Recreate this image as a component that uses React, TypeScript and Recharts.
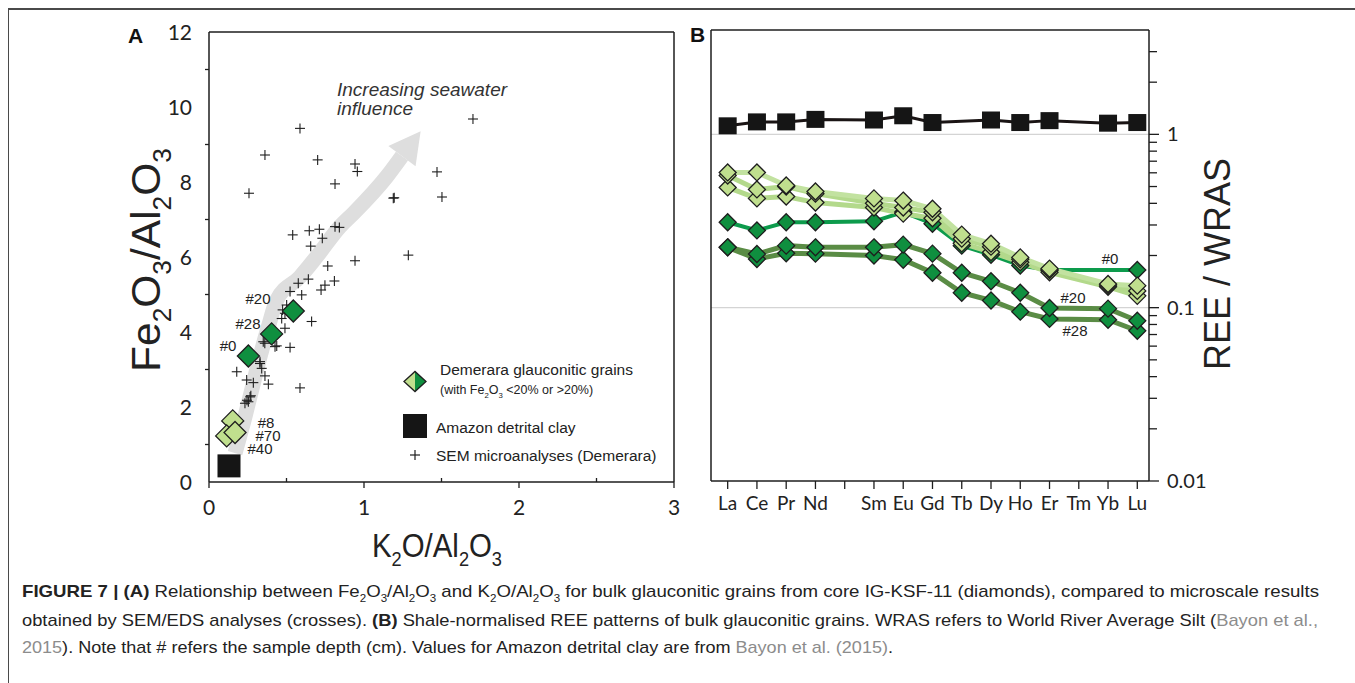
import React from 'react';
import { ComposedChart, LineChart, Line, Scatter, XAxis, YAxis, ReferenceLine } from 'recharts';

// ---------- panel A : Fe2O3/Al2O3 vs K2O/Al2O3 ----------
const semK2O = [
  0.587, 0.361, 0.701, 0.942, 0.957, 0.258, 0.813, 1.189, 1.195, 0.54, 0.647, 0.712, 0.731, 0.656,
  0.813, 0.841, 1.286, 0.766, 0.942, 1.471, 1.503, 1.703, 0.641, 0.576, 0.523, 0.598, 0.809, 0.748,
  0.723, 0.475, 0.469, 0.501, 0.662, 0.49, 0.35, 0.426, 0.523, 0.329, 0.34, 0.179, 0.243, 0.361,
  0.383, 0.286, 0.587, 0.265, 0.254, 0.232, 0.49, 0.437, 0.329, 0.245, 0.27, 0.36,
];
const semFe2O3 = [
  9.43, 8.72, 8.59, 8.48, 8.28, 7.7, 7.95, 7.57, 7.58, 6.59, 6.7, 6.74, 6.5, 6.29,
  6.81, 6.79, 6.05, 5.76, 5.9, 8.27, 7.6, 9.68, 5.41, 5.3, 5.08, 4.99, 5.36, 5.25,
  5.12, 4.59, 4.36, 4.72, 4.28, 4.1, 3.74, 3.61, 3.59, 3.21, 3.03, 2.94, 2.72, 2.83,
  2.61, 2.65, 2.51, 2.27, 2.14, 2.1, 4.5, 3.63, 3.16, 2.18, 2.3, 3.7,
];
// high-Fe grains (#0, #28, #20) and low-Fe grains (#8, #40, #70)
const highFeK2O = [0.254, 0.404, 0.544];
const highFeFe2O3 = [3.36, 3.95, 4.56];
const lowFeK2O = [0.153, 0.114, 0.168];
const lowFeFe2O3 = [1.63, 1.23, 1.32];
const amazonK2O = [0.129];
const amazonFe2O3 = [0.43];
// trend arrow
const trendK2O = [0.168, 0.232, 0.286, 0.329, 0.383, 0.437, 0.587, 0.695, 0.845, 0.931, 1.146, 1.245];
const trendFe2O3 = [0.77, 1.74, 2.63, 3.34, 4.14, 4.85, 5.47, 6.01, 6.81, 7.16, 8.14, 8.69];

// ---------- panel B : REE / WRAS ----------
const elements = ['La', 'Ce', 'Pr', 'Nd', '', 'Sm', 'Eu', 'Gd', 'Tb', 'Dy', 'Ho', 'Er', 'Tm', 'Yb', 'Lu'];
const reeAmazon = [1.12, 1.18, 1.18, 1.22, null, 1.21, 1.28, 1.17, null, 1.21, 1.17, 1.2, null, 1.16, 1.17];
const ree0 = [0.311, 0.279, 0.311, 0.311, null, 0.315, 0.356, 0.305, 0.228, 0.202, 0.175, 0.165, null, null, 0.165];
const ree8 = [0.603, 0.603, 0.507, 0.468, null, 0.427, 0.415, 0.372, 0.264, 0.234, 0.195, 0.168, null, 0.137, 0.134];
const ree70 = [0.579, 0.481, 0.5, 0.455, null, 0.4, 0.378, 0.355, 0.25, 0.225, 0.19, 0.165, null, 0.135, 0.125];
const ree40 = [0.494, 0.427, 0.438, 0.404, null, 0.378, 0.349, 0.328, 0.235, 0.209, 0.183, 0.16, null, 0.132, 0.117];
const ree20 = [0.223, 0.204, 0.228, 0.223, null, 0.223, 0.231, 0.205, 0.159, 0.142, 0.122, 0.0996, null, 0.0987, 0.0841];
const ree28 = [0.223, 0.191, 0.206, 0.205, null, 0.2, 0.189, 0.159, 0.122, 0.11, 0.0948, 0.0861, null, 0.0852, 0.0736];
const logTicks = [
  0.01, 0.02, 0.03, 0.04, 0.05, 0.06, 0.07, 0.08, 0.09,
  0.1, 0.2, 0.3, 0.4, 0.5, 0.6, 0.7, 0.8, 0.9, 1, 2, 3,
];

const zip = (xs: number[], ys: number[]) => xs.map((x, i) => ({ x, y: ys[i] }));
const semData = zip(semK2O, semFe2O3);
const highFeData = zip(highFeK2O, highFeFe2O3);
const lowFeData = zip(lowFeK2O, lowFeFe2O3);
const amazonData = zip(amazonK2O, amazonFe2O3);
const trendData = zip(trendK2O, trendFe2O3);

const reeData = elements.map((el, i) => ({
  i, el,
  amazon: reeAmazon[i], s0: ree0[i], s8: ree8[i], s70: ree70[i], s40: ree40[i], s20: ree20[i], s28: ree28[i],
}));

const INK = '#1e1e1e';
const LIGHT = '#c0df8e';
const DARK = '#0f8f3f';
const TICK_FONT = 'Lato, "Open Sans", sans-serif';
const SANS = '"Liberation Sans", Arial, sans-serif';

const Diamond = ({ cx, cy, r, fill }: any) => (
  <polygon
    points={`${cx},${cy - r} ${cx + r},${cy} ${cx},${cy + r} ${cx - r},${cy}`}
    fill={fill}
    stroke={INK}
    strokeWidth={1.3}
  />
);

const Cross = ({ cx, cy }: any) => (
  <g stroke={INK} strokeWidth={1.1}>
    <line x1={cx - 5} x2={cx + 5} y1={cy} y2={cy} />
    <line x1={cx} x2={cx} y1={cy - 5} y2={cy + 5} />
  </g>
);

const ArrowHead = ({ cx, cy }: any) => {
  const a = (-53 * Math.PI) / 180;
  const ux = Math.cos(a);
  const uy = Math.sin(a);
  const L = 31;
  const W = 17;
  const pts = [
    [cx + L * ux, cy + L * uy],
    [cx - W * uy, cy + W * ux],
    [cx + W * uy, cy - W * ux],
  ];
  return <polygon points={pts.map((p) => p.join(',')).join(' ')} fill="#dedede" />;
};

// ---- tick renderers ----
const aYTick = (p: any) => {
  const v = p.payload.value;
  if (v % 2 === 1) return <line key={v} x1={p.x} x2={p.x - 4} y1={p.y} y2={p.y} stroke={INK} strokeWidth={1.3} />;
  return (
    <text key={v} x={p.x - 17} y={p.y + 7.5} textAnchor="end" fontSize={21} fontFamily={TICK_FONT} fill="#222">
      {v}
    </text>
  );
};

const aXTick = (p: any) => {
  const v = p.payload.value;
  if (!Number.isInteger(v)) return <line key={v} x1={p.x} x2={p.x} y1={p.y} y2={p.y - 4} stroke={INK} strokeWidth={1.3} />;
  return (
    <g key={v}>
      <line x1={p.x} x2={p.x} y1={p.y} y2={p.y + 6} stroke={INK} strokeWidth={1.3} />
      <text x={p.x} y={p.y + 33} textAnchor="middle" fontSize={21} fontFamily={TICK_FONT} fill="#222">
        {v}
      </text>
    </g>
  );
};

const bXTick = (p: any) => (
  <g key={p.payload.value}>
    <line x1={p.x} x2={p.x} y1={p.y} y2={p.y + 8} stroke={INK} strokeWidth={1.3} />
    <text x={p.x} y={p.y + 28.5} textAnchor="middle" fontSize={19} fontFamily={TICK_FONT} fill="#222">
      {elements[p.payload.value]}
    </text>
  </g>
);

const bYTick = (p: any) => {
  const v = p.payload.value;
  const major = v === 0.01 || v === 0.1 || v === 1;
  return (
    <g key={v}>
      <line x1={p.x} x2={p.x + (major ? 10 : 8)} y1={p.y} y2={p.y} stroke={INK} strokeWidth={1.3} />
      {major && (
        <text x={p.x + 18} y={p.y + 7} fontSize={20} fontFamily={TICK_FONT} fill="#222">
          {v}
        </text>
      )}
    </g>
  );
};

const reeDot = (fill: string, name: string) => (p: any) => {
  if (p.cx == null || p.cy == null || p.value == null) return <g key={`${name}-${p.index}`} />;
  return <Diamond key={`${name}-${p.index}`} cx={p.cx} cy={p.cy} r={8.5} fill={fill} />;
};

const squareDot = (p: any) => {
  if (p.cx == null || p.cy == null || p.value == null) return <g key={`sq-${p.index}`} />;
  return <rect key={`sq-${p.index}`} x={p.cx - 9} y={p.cy - 8.5} width={18} height={17} fill="#151515" />;
};

// text pieces: even index = normal, odd index = subscript
const rich = (parts: string[], size: number, key: string) => {
  const d = size * 0.28;
  let shifted = false;
  return parts.map((t, i) => {
    const sub = i % 2 === 1;
    let dy = 0;
    if (sub && !shifted) { dy = d; shifted = true; }
    if (!sub && shifted) { dy = -d; shifted = false; }
    return (
      <tspan key={`${key}${i}`} dy={dy || undefined} fontSize={sub ? size * 0.62 : undefined}>
        {t}
      </tspan>
    );
  });
};

export default function App() {
  const last = trendData.length - 1;
  return (
    <div style={{ position: 'relative', width: 1355, height: 683, overflow: 'hidden', background: '#fff' }}>
      <style>{'body{margin:0}'}</style>
      <div
        style={{
          position: 'absolute', left: 8, top: 8, width: 1400, height: 700,
          borderTop: '2px solid #4a4a4a', borderLeft: '1.5px solid #4a4a4a',
        }}
      />

      {/* Panel A */}
      <div style={{ position: 'absolute', left: 0, top: 0 }}>
        <ComposedChart width={700} height={560} margin={{ top: 32, right: 26, bottom: 48, left: 149 }}>
          <XAxis
            type="number" dataKey="x" domain={[0, 3]} ticks={[0, 0.5, 1, 1.5, 2, 2.5, 3]} interval={0}
            tick={aXTick} tickLine={false} tickSize={0} tickMargin={0} height={30}
            axisLine={{ stroke: INK, strokeWidth: 1.5 }} allowDataOverflow
          />
          <YAxis
            type="number" dataKey="y" domain={[0, 12]} ticks={[0, 1, 2, 3, 4, 5, 6, 7, 8, 9, 10, 11, 12]} interval={0}
            tick={aYTick} tickLine={false} tickSize={0} tickMargin={0} width={60}
            axisLine={{ stroke: INK, strokeWidth: 1.5 }} allowDataOverflow
          />
          <ReferenceLine y={12} stroke={INK} strokeWidth={1.5} />
          <ReferenceLine x={3} stroke={INK} strokeWidth={1.5} />
          <Line
            data={trendData} dataKey="y" type="monotone" stroke="#dedede" strokeWidth={15}
            dot={(p: any) => (p.index === last ? <ArrowHead key="head" cx={p.cx} cy={p.cy} /> : <g key={`t${p.index}`} />)}
            activeDot={false} isAnimationActive={false} legendType="none"
          />
          <Scatter data={semData} shape={(p: any) => <Cross cx={p.cx} cy={p.cy} />} isAnimationActive={false} />
          <Scatter
            data={amazonData}
            shape={(p: any) => <rect x={p.cx - 11.5} y={p.cy - 11.5} width={23} height={23} fill="#151515" />}
            isAnimationActive={false}
          />
          <Scatter data={lowFeData} shape={(p: any) => <Diamond cx={p.cx} cy={p.cy} r={11} fill={LIGHT} />} isAnimationActive={false} />
          <Scatter data={highFeData} shape={(p: any) => <Diamond cx={p.cx} cy={p.cy} r={11} fill={DARK} />} isAnimationActive={false} />
        </ComposedChart>
      </div>

      {/* Panel B */}
      <div style={{ position: 'absolute', left: 600, top: 0 }}>
        <LineChart width={640} height={560} data={reeData} margin={{ top: 30, right: 31, bottom: 49, left: 111 }}>
          <XAxis
            type="number" dataKey="i" domain={[-0.57, 14.4]} ticks={elements.map((_, i) => i)} interval={0}
            tick={bXTick} tickLine={false} tickSize={0} tickMargin={0} height={30}
            axisLine={{ stroke: INK, strokeWidth: 1.5 }} allowDataOverflow
          />
          <YAxis
            yAxisId={0} orientation="right" scale="log" domain={[0.01, 4]} ticks={logTicks} interval={0}
            tick={bYTick} tickLine={false} tickSize={0} tickMargin={0} width={60}
            axisLine={{ stroke: INK, strokeWidth: 1.5 }} allowDataOverflow
          />
          <ReferenceLine y={1} stroke="#d4d4d4" strokeWidth={1.3} />
          <ReferenceLine y={0.1} stroke="#d4d4d4" strokeWidth={1.3} />
          <ReferenceLine y={4} stroke={INK} strokeWidth={1.5} />
          <ReferenceLine x={-0.57} stroke={INK} strokeWidth={1.5} />
          <Line dataKey="s28" stroke="#5a8c45" strokeWidth={5} connectNulls dot={reeDot(DARK, 's28')} activeDot={false} isAnimationActive={false} />
          <Line dataKey="s20" stroke="#5a8c45" strokeWidth={5} connectNulls dot={reeDot(DARK, 's20')} activeDot={false} isAnimationActive={false} />
          <Line dataKey="s0" stroke="#0d9b4c" strokeWidth={4} connectNulls dot={reeDot(DARK, 's0')} activeDot={false} isAnimationActive={false} />
          <Line dataKey="s40" stroke="#b3d98b" strokeWidth={5} connectNulls dot={reeDot(LIGHT, 's40')} activeDot={false} isAnimationActive={false} />
          <Line dataKey="s70" stroke="#b3d98b" strokeWidth={5} connectNulls dot={reeDot(LIGHT, 's70')} activeDot={false} isAnimationActive={false} />
          <Line dataKey="s8" stroke="#c2e2a0" strokeWidth={5} connectNulls dot={reeDot(LIGHT, 's8')} activeDot={false} isAnimationActive={false} />
          <Line dataKey="amazon" stroke="#1a1414" strokeWidth={3} connectNulls dot={squareDot} activeDot={false} isAnimationActive={false} />
        </LineChart>
      </div>

      {/* texts and legend */}
      <svg width={1355} height={683} style={{ position: 'absolute', left: 0, top: 0, pointerEvents: 'none' }} fontFamily={SANS}>
        <text x={128} y={43} fontSize={21} fontWeight="bold" fill="#111">A</text>
        <text x={690} y={42} fontSize={21} fontWeight="bold" fill="#111">B</text>

        <text x={337} y={96} fontSize={19} fontStyle="italic" fill="#333">Increasing seawater</text>
        <text x={337} y={115} fontSize={19} fontStyle="italic" fill="#333">influence</text>

        <g fontSize={15} fill="#222" textAnchor="middle">
          <text x={258} y={304}>#20</text>
          <text x={248} y={329}>#28</text>
          <text x={228} y={351}>#0</text>
          <text x={266} y={428}>#8</text>
          <text x={268} y={441}>#70</text>
          <text x={260} y={454}>#40</text>
          <text x={1110} y={264}>#0</text>
          <text x={1073} y={303}>#20</text>
          <text x={1075} y={336}>#28</text>
        </g>

        {/* legend */}
        <polygon points="404,381.5 415,371.5 415,391.5" fill={LIGHT} />
        <polygon points="415,371.5 426,381.5 415,391.5" fill={DARK} />
        <polygon points="404,381.5 415,371.5 426,381.5 415,391.5" fill="none" stroke={INK} strokeWidth={1.3} />
        <text x={440} y={375} fontSize={15.5} fill="#222">Demerara glauconitic grains</text>
        <text x={440} y={394} fontSize={12.5} fill="#222">
          {rich(['(with Fe', '2', 'O', '3', ' <20% or >20%)'], 12.5, 'lg')}
        </text>
        <rect x={403} y={414} width={24} height={24} fill="#151515" />
        <text x={436} y={433} fontSize={15.5} fill="#222">Amazon detrital clay</text>
        <g stroke={INK} strokeWidth={1.2}>
          <line x1={410} x2={420} y1={455} y2={455} />
          <line x1={415} x2={415} y1={450} y2={460} />
        </g>
        <text x={436} y={461} fontSize={15.5} fill="#222">SEM microanalyses (Demerara)</text>

        {/* axis titles */}
        <text transform="translate(160,260) rotate(-90)" textAnchor="middle" fontSize={41} fill="#222" textLength={224} lengthAdjust="spacingAndGlyphs">
          {rich(['Fe', '2', 'O', '3', '/Al', '2', 'O', '3'], 41, 'ya')}
        </text>
        <text x={437} y={557} textAnchor="middle" fontSize={33} fill="#222" textLength={130} lengthAdjust="spacingAndGlyphs">
          {rich(['K', '2', 'O/Al', '2', 'O', '3'], 33, 'xa')}
        </text>
        <text transform="translate(1230,264) rotate(-90)" textAnchor="middle" fontSize={36} fill="#222" textLength={212} lengthAdjust="spacingAndGlyphs">
          REE / WRAS
        </text>

        {/* caption */}
        <g fontSize={17} fill="#222">
          <text x={22} y={597} textLength={1297} lengthAdjust="spacingAndGlyphs">
            <tspan fontWeight="bold">FIGURE 7 | (A)</tspan>
            {rich(
              [
                ' Relationship between Fe', '2', 'O', '3', '/Al', '2', 'O', '3', ' and K', '2', 'O/Al', '2', 'O', '3',
                ' for bulk glauconitic grains from core IG-KSF-11 (diamonds), compared to microscale results',
              ],
              17,
              'c1',
            )}
          </text>
          <text x={22} y={626} textLength={1296} lengthAdjust="spacingAndGlyphs">
            obtained by SEM/EDS analyses (crosses). <tspan fontWeight="bold">(B)</tspan> Shale-normalised REE patterns of bulk glauconitic
            grains. WRAS refers to World River Average Silt (<tspan fill="#8c8c8c">Bayon et al.,</tspan>
          </text>
          <text x={22} y={653} textLength={871} lengthAdjust="spacingAndGlyphs">
            <tspan fill="#8c8c8c">2015</tspan>). Note that # refers the sample depth (cm). Values for Amazon detrital clay are from{' '}
            <tspan fill="#8c8c8c">Bayon et al. (2015)</tspan>.
          </text>
        </g>
      </svg>
    </div>
  );
}
